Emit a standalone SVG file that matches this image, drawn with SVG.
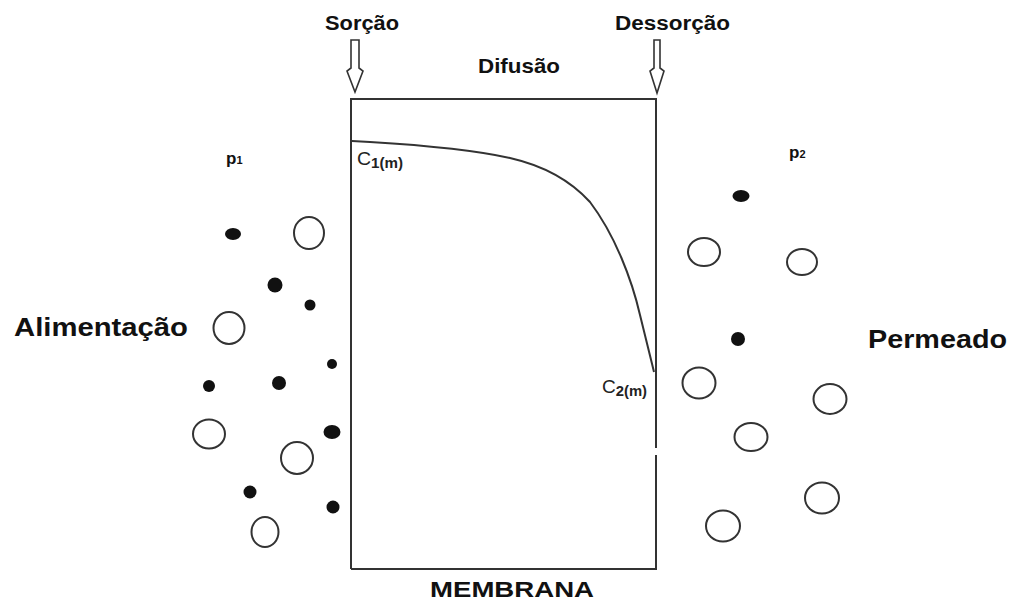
<svg xmlns="http://www.w3.org/2000/svg" width="1015" height="611" viewBox="0 0 1015 611">
<style>
.t{font-family:"Liberation Sans",Arial,sans-serif;font-weight:bold;fill:#111}
.c{font-family:"Liberation Sans",Arial,sans-serif;fill:#222}
.ln{fill:none;stroke:#333;stroke-width:2}
.o{fill:#fff;stroke:#333;stroke-width:2}
.d{fill:#111}
.ar{fill:#fff;stroke:#333;stroke-width:1.6;stroke-linejoin:miter}
</style>
<rect width="1015" height="611" fill="#fff"/>
<g id="membrana">
<path class="ln" d="M351,569 V99 H656 V448 M656,455 V569 H351"/>
<path class="ln" d="M352,141 L370,142 C420,145 470,149 510,158 C545,166 570,180 590,202 C615,235 632,280 640,315 C646,340 650,355 654,372" stroke-width="1.8"/>
<text class="t" x="430" y="597" font-size="22" textLength="164" lengthAdjust="spacingAndGlyphs">MEMBRANA</text>
<text class="t" x="478" y="73" font-size="21" textLength="82" lengthAdjust="spacingAndGlyphs">Difusão</text>
<text class="c" x="357" y="165" font-size="18" textLength="46" lengthAdjust="spacingAndGlyphs">C<tspan font-size="14" font-weight="bold" dy="3">1(m)</tspan></text>
<text class="c" x="602" y="393" font-size="18" textLength="45" lengthAdjust="spacingAndGlyphs">C<tspan font-size="14" font-weight="bold" dy="3">2(m)</tspan></text>
</g>
<g id="sorcao">
<text class="t" x="325" y="30" font-size="20" textLength="74" lengthAdjust="spacingAndGlyphs">Sorção</text>
<polygon class="ar" points="351,40 359,40 359,68 363,71 355,92 347,71 351,68"/>
</g>
<g id="dessorcao">
<text class="t" x="615" y="30" font-size="20" textLength="115" lengthAdjust="spacingAndGlyphs">Dessorção</text>
<polygon class="ar" points="654,40 660,40 660,68 664,71 657,93 650,71 654,68"/>
</g>
<g id="alimentacao">
<text class="t" x="14" y="336" font-size="26" textLength="174" lengthAdjust="spacingAndGlyphs">Alimentação</text>
<text class="t" x="226" y="164" font-size="17">p<tspan font-size="11">1</tspan></text>
<ellipse class="d" cx="233" cy="234" rx="8" ry="6"/>
<ellipse class="o" cx="309" cy="233" rx="15" ry="16"/>
<circle class="d" cx="275" cy="285" r="7.5"/>
<circle class="d" cx="310" cy="305" r="5.5"/>
<ellipse class="o" cx="229" cy="328" rx="15.5" ry="16"/>
<circle class="d" cx="332" cy="364" r="5"/>
<circle class="d" cx="209" cy="386" r="6"/>
<circle class="d" cx="279" cy="383" r="7"/>
<ellipse class="o" cx="209" cy="434" rx="16" ry="14.5"/>
<ellipse class="d" cx="332" cy="432" rx="8.5" ry="7"/>
<ellipse class="o" cx="297" cy="458" rx="16" ry="16"/>
<circle class="d" cx="250" cy="492" r="6.5"/>
<circle class="d" cx="333" cy="507" r="6.5"/>
<ellipse class="o" cx="265" cy="532" rx="13.5" ry="15"/>
</g>
<g id="permeado">
<text class="t" x="868" y="348" font-size="25" textLength="139" lengthAdjust="spacingAndGlyphs">Permeado</text>
<text class="t" x="789" y="158" font-size="17">p<tspan font-size="11">2</tspan></text>
<ellipse class="d" cx="741" cy="196" rx="8.5" ry="6"/>
<ellipse class="o" cx="704" cy="252" rx="16" ry="14"/>
<ellipse class="o" cx="802" cy="262" rx="15" ry="13"/>
<circle class="d" cx="738" cy="339" r="7"/>
<ellipse class="o" cx="699" cy="383" rx="16.5" ry="15.5"/>
<ellipse class="o" cx="830" cy="399" rx="16.5" ry="15"/>
<ellipse class="o" cx="751" cy="437" rx="16.5" ry="14"/>
<ellipse class="o" cx="822" cy="498" rx="17" ry="15.5"/>
<ellipse class="o" cx="723" cy="526" rx="17" ry="15.5"/>
</g>
</svg>
